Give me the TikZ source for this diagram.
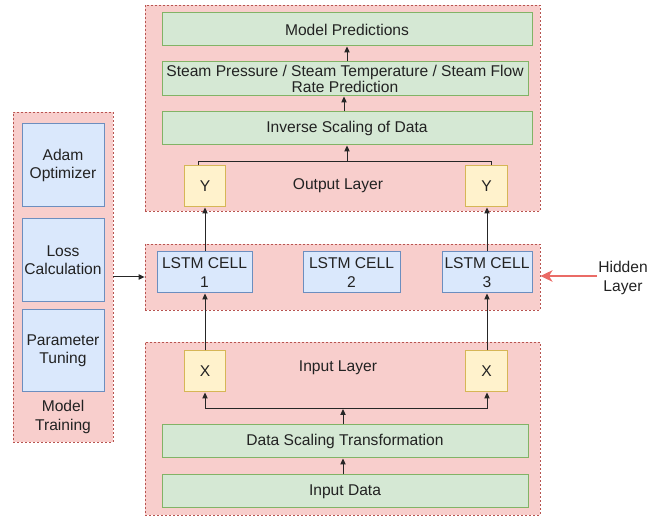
\documentclass[tikz,border=0pt]{standalone}
\usepackage{fontspec}
\setmainfont{Liberation Sans}
\usetikzlibrary{arrows.meta}
\definecolor{cfill}{HTML}{F8CECC}
\definecolor{cdraw}{HTML}{B85450}
\definecolor{gfill}{HTML}{D5E8D4}
\definecolor{gdraw}{HTML}{82B366}
\definecolor{bfill}{HTML}{DAE8FC}
\definecolor{bdraw}{HTML}{6C8EBF}
\definecolor{yfill}{HTML}{FFF2CC}
\definecolor{ydraw}{HTML}{D6B656}
\definecolor{redarr}{HTML}{EA6B66}
\definecolor{txt}{HTML}{222222}
\begin{document}
\begin{tikzpicture}[x=0.75pt,y=-0.75pt,
  every node/.style={font=\fontsize{11.7}{13.8}\selectfont, text=txt, inner sep=0pt, align=center},
  container/.style={draw=cdraw, fill=cfill, dash pattern=on 1.5pt off 1.5pt, line width=0.6pt},
  gbox/.style={draw=gdraw, fill=gfill, line width=0.75pt},
  bbox/.style={draw=bdraw, fill=bfill, line width=0.75pt},
  ybox/.style={draw=ydraw, fill=yfill, line width=0.75pt},
  arr/.style={draw=black!85, line width=0.75pt, -{Triangle[length=4.5pt,width=4pt]}},
  ln/.style={draw=black!85, line width=0.75pt}
]
\useasboundingbox (0,0) rectangle (661,516);
% containers
\node[container, minimum width=296.25pt, minimum height=154.5pt] (top) at (342.5,108) {};
\node[container, minimum width=296.25pt, minimum height=49.5pt] (mid) at (342.5,277) {};
\node[container, minimum width=296.25pt, minimum height=129.75pt] (bot) at (342.5,428.5) {};
\node[container, minimum width=75pt, minimum height=247.5pt] (left) at (63,277) {};
% top boxes
\node[gbox, minimum width=277.5pt, minimum height=24.75pt] (mp) at (347,29.5) {Model Predictions};
\node[gbox, minimum width=274.5pt, minimum height=25.5pt] (sp) at (345,79) {Steam Pressure / Steam Temperature / Steam Flow\\[-1.5pt]Rate Prediction};
\node[gbox, minimum width=277.5pt, minimum height=24.75pt] (inv) at (347,128.5) {Inverse Scaling of Data};
\node[ybox, minimum width=31pt, minimum height=30.75pt] (yl) at (205,186.5) {Y};
\node[ybox, minimum width=31pt, minimum height=30.75pt] (yr) at (486.5,186.5) {Y};
\node (outl) at (338,186) {Output Layer};
% middle
\node[bbox, minimum width=71.25pt, minimum height=30.75pt] (l1) at (204.5,272.5) {LSTM CELL\\1};
\node[bbox, minimum width=72.75pt, minimum height=30.75pt] (l2) at (351.5,272.5) {LSTM CELL\\2};
\node[bbox, minimum width=67.5pt, minimum height=30.75pt] (l3) at (487,272.5) {LSTM CELL\\3};
\node (hid) at (623,278) {Hidden\\Layer};
% bottom
\node[ybox, minimum width=31pt, minimum height=30.75pt] (xl) at (205,371.5) {X};
\node[ybox, minimum width=31pt, minimum height=30.75pt] (xr) at (486.5,371.5) {X};
\node (inl) at (338,368) {Input Layer};
\node[gbox, minimum width=274.5pt, minimum height=24.75pt] (ds) at (345,441.5) {Data Scaling Transformation};
\node[gbox, minimum width=274.5pt, minimum height=24.75pt] (ind) at (345,491.5) {Input Data};
% left
\node[bbox, minimum width=61.5pt, minimum height=62.25pt] (adam) at (63,165.5) {Adam\\Optimizer};
\node[bbox, minimum width=61.5pt, minimum height=62.25pt] (loss) at (63,260.5) {Loss\\Calculation};
\node[bbox, minimum width=61.5pt, minimum height=61.5pt] (par) at (63,351) {Parameter\\Tuning};
\node (mt) at (63,417) {Model\\Training};
% coordinates
\coordinate (bp) at (343,409);
\coordinate (bl) at (205,409);
\coordinate (br) at (487,409);
\coordinate (tp) at (347,162);
\coordinate (tl) at (198,162);
\coordinate (tr) at (491,162);
\coordinate (hs) at (597,276);
% connectors
\draw[arr] (ind.north -| bp) -- (ds.south -| bp);
\draw[arr] (ds.north -| bp) -- (bp);
\draw[ln] (bl) -- (br);
\draw[arr] (bl) -- (xl.south -| bl);
\draw[arr] (br) -- (xr.south -| br);
\draw[arr] (xl.north) -- (l1.south -| xl.north);
\draw[arr] (xr.north -| br) -- (l3.south -| br);
\draw[arr] (l1.north -| xl.north) -- (yl.south);
\draw[arr] (l3.north -| br) -- (yr.south -| br);
\draw[ln] (yl.north -| tl) -- (tl) -- (tr) -- (yr.north -| tr);
\draw[arr] (tp) -- (inv.south -| tp);
\draw[arr] (inv.north -| 344,0) -- (sp.south -| 344,0);
\draw[arr] (sp.north -| tp) -- (mp.south -| tp);
\draw[arr] (left.east |- 0,277) -- (mid.west |- 0,277);
\draw[draw=redarr, line width=1.6pt, -{Stealth[length=9pt,width=8.5pt,inset=2.5pt]}] (hs) -- (mid.east |- hs);
\end{tikzpicture}
\end{document}
